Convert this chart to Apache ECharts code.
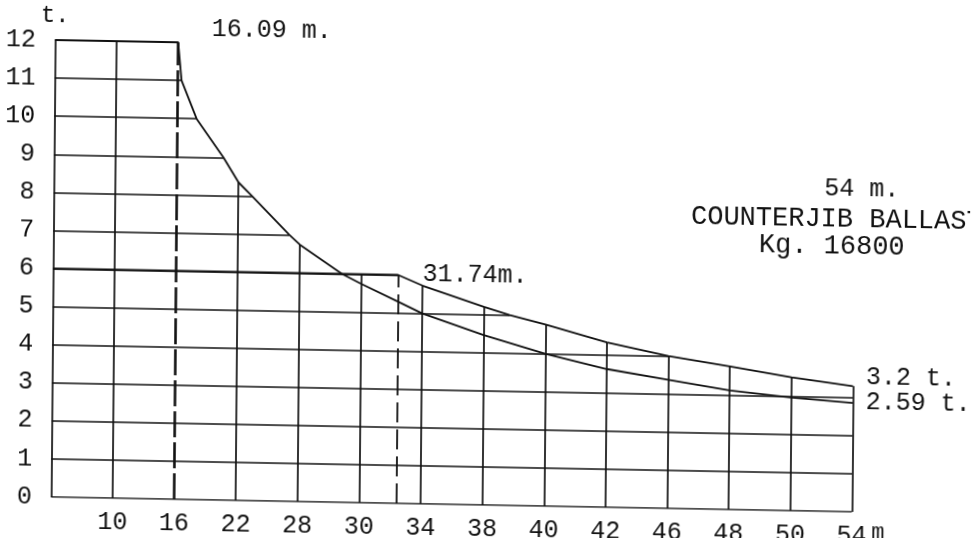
<!DOCTYPE html>
<html>
<head>
<meta charset="utf-8">
<script src="https://cdn.jsdelivr.net/npm/echarts@6/dist/echarts.min.js"></script>
<style>
html,body{margin:0;padding:0;background:#fff;overflow:hidden;width:972px;height:538px}
#chart{width:972px;height:538px;transform-origin:0 0;transform:matrix(1,0.0185,-0.0088,1,0,0)}
</style>
</head>
<body>
<div id="chart"></div>
<script>
// ---- data (x = chart column index, labelled by xTickLabels) ----
const xTickLabels = ['', '10', '16', '22', '28', '30', '34', '38', '40', '42', '46', '48', '50', '54'];
const yTickLabels = ['0', '1', '2', '3', '4', '5', '6', '7', '8', '9', '10', '11', '12'];

// 12 t curve (up to 16.09 m), ends 2.59 t at 54 m
const curve12Column = [0, 2, 2.06, 2.31, 2.75, 3, 3.22, 3.83, 4, 4.69, 5, 5.6, 6, 7, 8, 9, 10, 11, 12, 13];
const curve12Load   = [12, 12, 11, 10, 9, 8.35, 8, 7, 6.75, 6, 5.75, 5.3, 5, 4.46, 4, 3.63, 3.38, 3.13, 2.97, 2.86];

// 6 t curve (up to 31.74 m), ends 3.2 t at 54 m
const curve6Column = [0, 5.6, 6, 7, 7.42, 8, 9, 10, 11, 12, 13];
const curve6Load   = [6, 6, 5.73, 5.2, 5, 4.77, 4.33, 4, 3.76, 3.5, 3.3];

const column16 = 2;     // 16.09 m
const column31 = 5.6;   // 31.74 m

const FONT = '"Liberation Mono", "DejaVu Sans Mono", monospace';
const INK = '#111111';

function loadAt(cols, loads, x) {
  let best = -Infinity;
  for (let i = 0; i < cols.length - 1; i++) {
    if (x >= cols[i] && x <= cols[i + 1]) {
      const t = cols[i + 1] === cols[i] ? 0 : (x - cols[i]) / (cols[i + 1] - cols[i]);
      best = Math.max(best, loads[i] + t * (loads[i + 1] - loads[i]));
    }
  }
  return best;
}
function reach(cols, loads, k) {
  let best = -Infinity;
  for (let i = 0; i < cols.length; i++) if (loads[i] >= k) best = Math.max(best, cols[i]);
  for (let i = 0; i < cols.length - 1; i++) {
    const a = loads[i], b = loads[i + 1];
    if (a > k && b < k) best = Math.max(best, cols[i] + (a - k) / (a - b) * (cols[i + 1] - cols[i]));
  }
  return best;
}
const envelope = x => Math.max(loadAt(curve12Column, curve12Load, x), loadAt(curve6Column, curve6Load, x));
const envReach = k => Math.max(reach(curve12Column, curve12Load, k), reach(curve6Column, curve6Load, k));

const gridLines = [];
yTickLabels.forEach((_, k) => {
  gridLines.push({ coords: [[0, k], [envReach(k), k]] });
});
xTickLabels.forEach((_, c) => {
  if (c === column16) return;
  gridLines.push({ coords: [[c, 0], [c, envelope(c)]] });
});
gridLines.push({ coords: [[column16, 0], [column16, envelope(column16)]], lineStyle: { width: 2.6, type: [26, 5] } });
gridLines.push({ coords: [[column31, 0], [column31, envelope(column31)]], lineStyle: { width: 1.8, type: [20, 7] } });

const toPts = (c, l) => c.map((x, i) => [x, l[i]]);

const chart = echarts.init(document.getElementById('chart'));
const textItem = (t, x, y, size) => ({
  type: 'text', x: x, y: y, silent: true,
  style: { text: t, font: size + 'px ' + FONT, fill: INK, align: 'left', verticalAlign: 'middle' }
});

chart.setOption({
  backgroundColor: '#ffffff',
  animation: false,
  grid: { left: 55.35, right: 115.65, top: 39, bottom: 42, containLabel: false },
  xAxis: {
    type: 'value', min: 0, max: 13, interval: 1,
    axisLine: { show: false }, axisTick: { show: false }, splitLine: { show: false },
    axisLabel: {
      fontFamily: FONT, fontSize: 25, color: INK, margin: 12,
      formatter: v => xTickLabels[Math.round(v)] || ''
    }
  },
  yAxis: {
    type: 'value', min: 0, max: 12, interval: 1,
    name: 't.', nameLocation: 'end', nameGap: 12,
    nameTextStyle: { fontFamily: FONT, fontSize: 24, color: INK },
    axisLine: { show: false }, axisTick: { show: false }, splitLine: { show: false },
    axisLabel: {
      fontFamily: FONT, fontSize: 25, color: INK, margin: 19, padding: [0, 0, 8, 0],
      formatter: v => yTickLabels[Math.round(v)]
    }
  },
  graphic: [
    textItem('16.09 m.', 212, 25, 25),
    textItem('31.74m.', 425, 266, 25),
    textItem('54 m.', 826, 173, 25),
    textItem('COUNTERJIB BALLAST', 693, 204, 27),
    textItem('Kg. 16800', 761, 231, 27),
    textItem('m', 876, 516, 22)
  ],
  series: [
    {
      type: 'lines', coordinateSystem: 'cartesian2d', silent: true, z: 2,
      lineStyle: { color: INK, width: 1.7, opacity: 1 },
      data: gridLines
    },
    {
      name: '12 t', type: 'line', data: toPts(curve12Column, curve12Load),
      showSymbol: false, silent: true, z: 3,
      lineStyle: { color: INK, width: 1.8 },
      endLabel: { show: true, formatter: '2.59 t.', fontFamily: FONT, fontSize: 25, color: INK, distance: 13, offset: [0, -1] }
    },
    {
      name: '6 t', type: 'line', data: toPts(curve6Column, curve6Load),
      showSymbol: false, silent: true, z: 3,
      lineStyle: { color: INK, width: 1.8 },
      endLabel: { show: true, formatter: '3.2 t.', fontFamily: FONT, fontSize: 25, color: INK, distance: 13, offset: [0, -9] }
    }
  ]
});
</script>
</body>
</html>
